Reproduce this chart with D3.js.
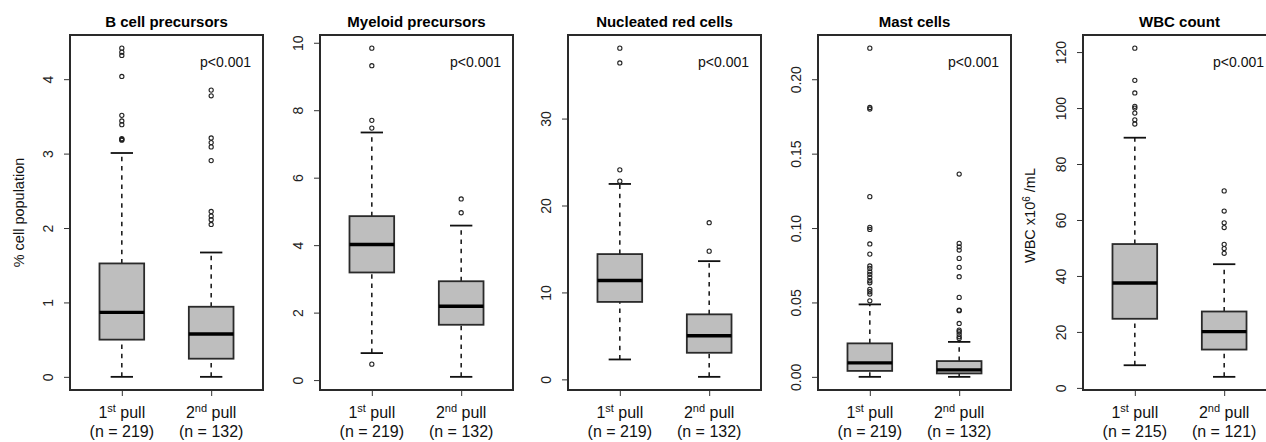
<!DOCTYPE html>
<html lang="en">
<head>
    <meta charset="UTF-8"/>
    <title>Pull comparison boxplots</title>
    <script src="https://d3js.org/d3.v7.min.js"></script>
    <style>
        body { margin: 0; background: #fff; }
        svg { font-family: "Liberation Sans", Arial, sans-serif; display: block; }
    </style>
</head>
<body>
<script>

    // panel titles and group labels
    var titles = ["B cell precursors", "Myeloid precursors", "Nucleated red cells", "Mast cells", "WBC count"];
    var pullNum = ["1", "2"];
    var pullSup = ["st", "nd"];
    var nCounts = [[219, 132], [219, 132], [219, 132], [219, 132], [215, 121]];
    var pLabels = ["p<0.001", "p<0.001", "p<0.001", "p<0.001", "p<0.001"];

    // box stats per group: [lower whisker, Q1, median, Q3, upper whisker]
    var bcellStats = [[0, 0.50, 0.866, 1.524, 3.008], [0, 0.244, 0.575, 0.942, 1.671]];
    var bcellOut = [[3.18, 3.19, 3.2, 3.389, 3.438, 3.514, 4.037, 4.319, 4.363, 4.417],
                    [2.048, 2.111, 2.16, 2.222, 2.906, 3.09, 3.148, 3.21, 3.777, 3.853]];

    var myeloidStats = [[0.80, 3.19, 4.02, 4.86, 7.34], [0.096, 1.64, 2.19, 2.93, 4.58]];
    var myeloidOut = [[0.472, 7.47, 7.70, 9.32, 9.84], [4.96, 5.37]];

    var nrbcStats = [[2.29, 8.91, 11.37, 14.41, 22.48], [0.29, 3.06, 5.02, 7.48, 13.6]];
    var nrbcOut = [[22.8, 24.1, 36.4, 38.1], [14.75, 18.02]];

    var mastStats = [[0, 0.0040, 0.0094, 0.0225, 0.0487], [0, 0.0023, 0.0047, 0.0106, 0.0235]];
    var mastOut = [[0.0511, 0.0556, 0.0572, 0.0588, 0.0632, 0.0646, 0.0669, 0.0689, 0.0706, 0.0729,
                    0.0745, 0.0825, 0.0893, 0.0991, 0.1005, 0.1211, 0.1800, 0.1810, 0.2209],
                   [0.0258, 0.0269, 0.0287, 0.0303, 0.0314, 0.0359, 0.0445, 0.0449, 0.0534, 0.0673,
                    0.0736, 0.0796, 0.0852, 0.0874, 0.0897, 0.1363]];

    var wbcStats = [[8.1, 24.7, 37.5, 51.4, 89.4], [3.95, 13.7, 20.1, 27.3, 44.2]];
    var wbcOut = [[94.3, 95.8, 98.2, 100.0, 100.6, 105.4, 109.9, 121.4],
                  [48.1, 49.8, 51.3, 57.3, 59.0, 63.2, 70.4]];

    // y tick labels
    var bcellTicks = [0, 1, 2, 3, 4];
    var myeloidTicks = [0, 2, 4, 6, 8, 10];
    var nrbcTicks = [0, 10, 20, 30];
    var mastTicks = [0, 0.05, 0.10, 0.15, 0.20];
    var wbcTicks = [0, 20, 40, 60, 80, 100, 120];

    var allStats = [bcellStats, myeloidStats, nrbcStats, mastStats, wbcStats];
    var allOut = [bcellOut, myeloidOut, nrbcOut, mastOut, wbcOut];
    var allTicks = [bcellTicks, myeloidTicks, nrbcTicks, mastTicks, wbcTicks];
    var tickFmt = [d3.format("d"), d3.format("d"), d3.format("d"), d3.format(".2f"), d3.format("d")];

    var w = 1266;
    var h = 442;
    var panelLeft = [70, 320, 568, 818, 1083];
    var plotW = 193;
    var plotTop = 35;
    var plotBottom = 390;

    var svg = d3.select("body")
                .append("svg")
                .attr("width", w)
                .attr("height", h);

    svg.append("rect").attr("width", w).attr("height", h).attr("fill", "#fff");

    for (var p = 0; p < titles.length; p++) {
        var L = panelLeft[p];
        var stats = allStats[p];
        var outs = allOut[p];
        var g = svg.append("g");

        var xScale = d3.scaleLinear()
                        .domain([0.42, 2.58])
                        .range([L, L + plotW]);

        // R style: data range padded by 4% each side
        var ext = d3.extent(stats.flat().concat(outs.flat()));
        var pad = (ext[1] - ext[0]) * 0.04;
        var yScale = d3.scaleLinear()
                        .domain([ext[0] - pad, ext[1] + pad])
                        .range([plotBottom, plotTop]);

        var halfBox = xScale(1.25) - xScale(1);
        var halfCap = xScale(1.125) - xScale(1);

        stats.forEach(function(s, i) {
            var cx = xScale(i + 1);

            // whiskers
            g.selectAll(null)
                .data([[s[0], s[1]], [s[3], s[4]]])
                .enter()
                .append("line")
                .attr("x1", cx).attr("x2", cx)
                .attr("y1", function(d) { return yScale(d[0]); })
                .attr("y2", function(d) { return yScale(d[1]); })
                .attr("stroke", "#111")
                .attr("stroke-width", 1.5)
                .attr("stroke-dasharray", "4.5,4.8");

            // caps
            g.selectAll(null)
                .data([s[0], s[4]])
                .enter()
                .append("line")
                .attr("x1", cx - halfCap).attr("x2", cx + halfCap)
                .attr("y1", function(d) { return yScale(d); })
                .attr("y2", function(d) { return yScale(d); })
                .attr("stroke", "#111")
                .attr("stroke-width", 1.8);

            // box
            g.append("rect")
                .attr("x", cx - halfBox)
                .attr("y", yScale(s[3]))
                .attr("width", halfBox * 2)
                .attr("height", yScale(s[1]) - yScale(s[3]))
                .attr("fill", "#bebebe")
                .attr("stroke", "#2a2a2a")
                .attr("stroke-width", 1.8);

            // median
            g.append("line")
                .attr("x1", cx - halfBox).attr("x2", cx + halfBox)
                .attr("y1", yScale(s[2])).attr("y2", yScale(s[2]))
                .attr("stroke", "#000")
                .attr("stroke-width", 3.4);

            // outliers
            g.selectAll(null)
                .data(outs[i])
                .enter()
                .append("circle")
                .attr("cx", cx)
                .attr("cy", function(d) { return yScale(d); })
                .attr("r", 2.1)
                .attr("fill", "none")
                .attr("stroke", "#222")
                .attr("stroke-width", 1.1);
        });

        // y axis
        var yAxis = g.append("g")
            .attr("transform", "translate(" + L + ",0)")
            .call(d3.axisLeft(yScale).tickValues(allTicks[p]).tickSize(6).tickFormat(tickFmt[p]));
        yAxis.select(".domain").remove();
        yAxis.selectAll(".tick line").attr("stroke", "#333");
        yAxis.selectAll(".tick text")
            .attr("transform", "rotate(-90)")
            .attr("x", 0)
            .attr("y", -17)
            .attr("dy", 0)
            .attr("text-anchor", "middle")
            .attr("fill", "#222")
            .style("font-size", "14px")
            .style("font-family", "Liberation Sans, Arial, sans-serif");

        // x axis ticks
        var xAxis = g.append("g")
            .attr("transform", "translate(0," + plotBottom + ")")
            .call(d3.axisBottom(xScale).tickValues([1, 2]).tickSize(6).tickFormat(""));
        xAxis.select(".domain").remove();
        xAxis.selectAll(".tick line").attr("stroke", "#333");

        // x labels
        for (var i = 0; i < 2; i++) {
            var t = g.append("text")
                .attr("x", xScale(i + 1))
                .attr("y", 418)
                .attr("text-anchor", "middle")
                .attr("fill", "#111")
                .style("font-size", "16px");
            t.append("tspan").text(pullNum[i]);
            t.append("tspan").attr("dy", -6).style("font-size", "11px").text(pullSup[i]);
            t.append("tspan").attr("dy", 6).text(" pull");

            g.append("text")
                .attr("x", xScale(i + 1))
                .attr("y", 437)
                .attr("text-anchor", "middle")
                .attr("fill", "#111")
                .style("font-size", "16px")
                .text("(n = " + nCounts[p][i] + ")");
        }

        // frame
        g.append("rect")
            .attr("x", L).attr("y", plotTop)
            .attr("width", plotW).attr("height", plotBottom - plotTop)
            .attr("fill", "none")
            .attr("stroke", "#2a2a2a")
            .attr("stroke-width", 2);

        // title
        g.append("text")
            .attr("x", L + plotW / 2)
            .attr("y", 27)
            .attr("text-anchor", "middle")
            .attr("fill", "#000")
            .style("font-size", "15px")
            .style("font-weight", "bold")
            .text(titles[p]);

        // p value
        g.append("text")
            .attr("x", L + plotW - 12)
            .attr("y", 67)
            .attr("text-anchor", "end")
            .attr("fill", "#111")
            .style("font-size", "14px")
            .text(pLabels[p]);
    }

    // y axis titles
    svg.append("text")
        .attr("transform", "translate(" + (panelLeft[0] - 46) + "," + ((plotTop + plotBottom) / 2) + ") rotate(-90)")
        .attr("text-anchor", "middle")
        .attr("fill", "#111")
        .style("font-size", "14.5px")
        .text("% cell population");

    var wt = svg.append("text")
        .attr("transform", "translate(" + (panelLeft[4] - 48) + "," + ((plotTop + plotBottom) / 2 + 3) + ") rotate(-90)")
        .attr("text-anchor", "middle")
        .attr("fill", "#111")
        .style("font-size", "14.5px");
    wt.append("tspan").text("WBC x10");
    wt.append("tspan").attr("dy", -5).style("font-size", "10px").text("6");
    wt.append("tspan").attr("dy", 5).text(" /mL");

</script>
</body>
</html>
